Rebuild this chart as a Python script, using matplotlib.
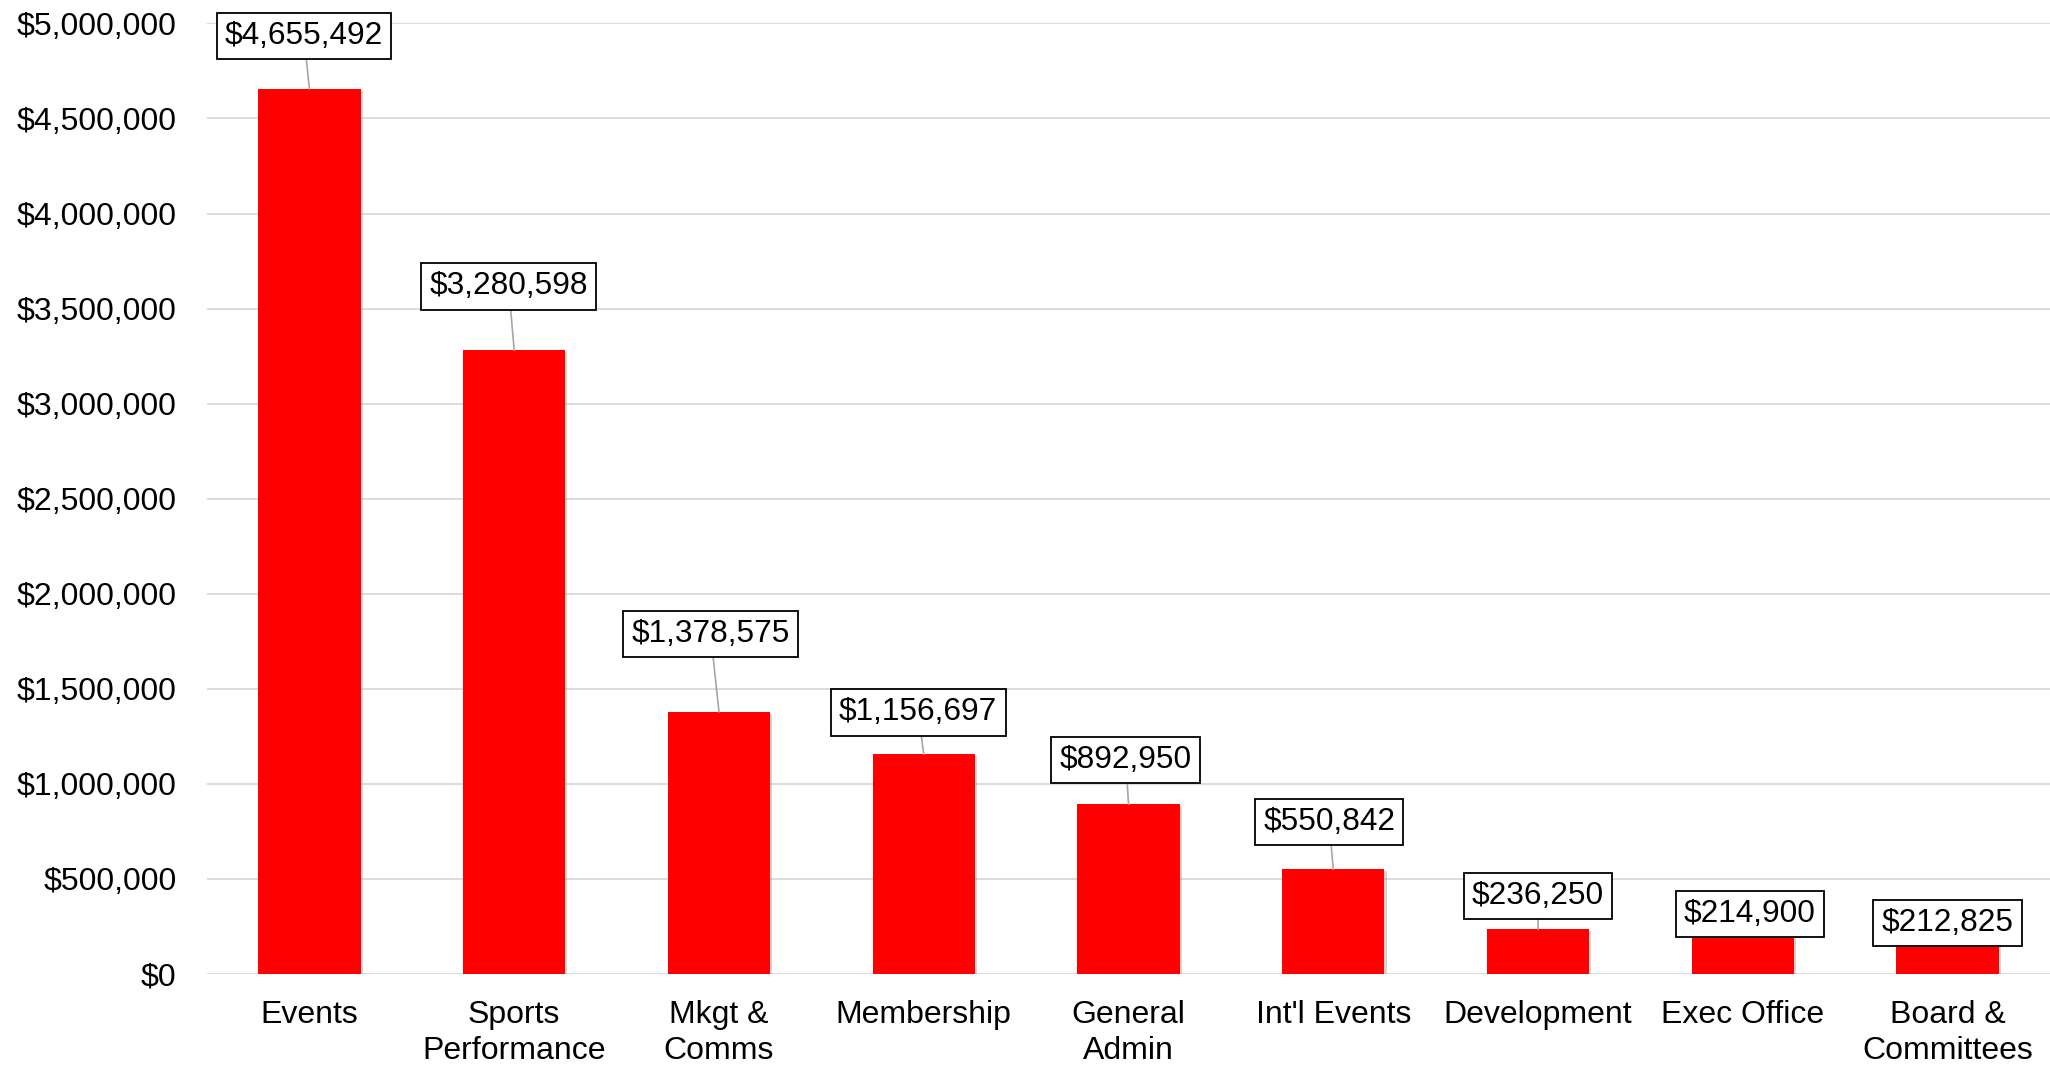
import matplotlib.pyplot as plt
import matplotlib.patheffects as pe
from matplotlib.ticker import FuncFormatter, MultipleLocator

plt.rcParams['font.family'] = ['Liberation Sans', 'DejaVu Sans']

# expenses by department
departments = ["Events", "Sports\nPerformance", "Mkgt &\nComms", "Membership",
               "General\nAdmin", "Int'l Events", "Development", "Exec Office",
               "Board &\nCommittees"]
expenses = [4655492, 3280598, 1378575, 1156697, 892950, 550842, 236250,
            214900, 212825]

# where each data label box sits relative to the top of its bar (points)
label_offsets = [(-4, 38), (-4, 46), (-6, 56), (-4, 30), (-2, 32),
                 (-3, 34), (0, 24), (5, 14), (0, 7.5)]

fig = plt.figure(figsize=(20.5, 10.65), dpi=100)
ax = fig.add_axes([0.101, 0.0854, 0.899, 0.8926])

x = range(len(departments))
bars = ax.bar(x, expenses, width=0.5, color="#ff0000", zorder=3)
for b in bars:
    b.set_path_effects([pe.SimplePatchShadow(offset=(1.5, -1.5), shadow_rgbFace="#888888", alpha=0.35),
                        pe.Normal()])

for i, (val, off) in enumerate(zip(expenses, label_offsets)):
    ax.annotate("${:,.0f}".format(val), xy=(i, val), xytext=off,
                textcoords="offset points", ha="center", va="center",
                fontsize=22.8, zorder=5,
                bbox=dict(boxstyle="square,pad=0.26", fc="white", ec="black", lw=1.3),
                arrowprops=dict(arrowstyle="-", color="#a6a6a6", lw=1.2,
                                shrinkA=0, shrinkB=0))

ax.set_xlim(-0.5, len(departments) - 0.5)
ax.set_ylim(0, 5000000)
ax.yaxis.set_major_locator(MultipleLocator(500000))
ax.yaxis.set_major_formatter(FuncFormatter(lambda v, p: "${:,.0f}".format(v)))
ax.set_xticks(list(x))
ax.set_xticklabels(departments, fontsize=23, linespacing=1.25)
ax.tick_params(axis="y", labelsize=23, length=0, pad=22)
ax.tick_params(axis="x", length=0, pad=19)

ax.grid(axis="y", color="#d9d9d9", lw=1.3, zorder=0)
for s in ax.spines.values():
    s.set_visible(False)

plt.savefig("out.png", dpi=100)
